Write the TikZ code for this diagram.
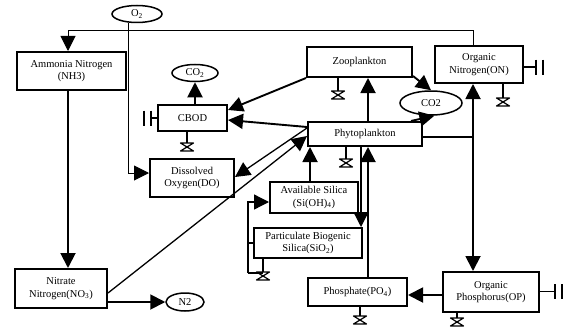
\documentclass[tikz,border=0pt]{standalone}
\usepackage{fontspec}
\setmainfont{Liberation Serif}
\usetikzlibrary{arrows.meta,shapes.geometric}
\begin{document}
\begin{tikzpicture}[x=1pt,y=-1pt,
  box/.style={draw, line width=2pt, align=center, inner sep=0pt, font=\fontsize{10.5}{12.5}\selectfont},
  oval/.style={draw, ellipse, line width=1.5pt, inner sep=0pt, font=\fontsize{10.5}{12.5}\selectfont},
  con/.style={line width=1.9pt},
  dia/.style={line width=1.3pt},
  fine/.style={line width=1pt},
  arr/.style={-{Triangle[length=15pt,width=15pt]}},
  pics/sink/.style={code={
    \draw[line width=1.5pt] (0,0)--(0,#1);
    \draw[line width=1.2pt, line join=round] (-6.5,#1)--(6.5,#1)--(-6.5,#1+8)--(6.5,#1+8)--cycle;}},
  pics/barsR/.style={code={
    \draw[line width=1.5pt] (0,0)--(#1,0) (#1,-7.5)--(#1,7.5) (#1+7,-7.5)--(#1+7,7.5);}},
  pics/barsL/.style={code={
    \draw[line width=1.5pt] (0,0)--(-#1,0) (-#1,-7.5)--(-#1,7.5) (-#1-7,-7.5)--(-#1-7,7.5);}},
]
\useasboundingbox (0,0) rectangle (569,329);

% boxes
\node[box, minimum width=109pt, minimum height=38pt] (nh3) at (71.5,71) {Ammonia Nitrogen\\(NH3)};
\node[box, minimum width=92pt, minimum height=39pt] (no3) at (61,288.5) {Nitrate\\Nitrogen(NO\textsubscript{3})};
\node[box, minimum width=69pt, minimum height=26pt] (cbod) at (192.5,118) {CBOD};
\node[box, minimum width=84pt, minimum height=38pt] (do) at (192,178) {Dissolved\\Oxygen(DO)};
\node[box, minimum width=105pt, minimum height=30pt] (zoo) at (359.5,62) {Zooplankton};
\node[box, minimum width=88pt, minimum height=37pt] (on) at (479,64.5) {Organic\\Nitrogen(ON)};
\node[box, minimum width=114pt, minimum height=24pt] (phyto) at (365,134) {Phytoplankton};
\node[box, minimum width=88pt, minimum height=31pt] (avsi) at (314,197.5) {Available Silica\\(Si(OH)\textsubscript{4})};
\node[box, minimum width=108pt, minimum height=30pt] (pbs) at (308,243) {Particulate Biogenic\\Silica(SiO\textsubscript{2})};
\node[box, minimum width=99pt, minimum height=28pt] (po4) at (357.5,292) {Phosphate(PO\textsubscript{4})};
\node[box, minimum width=96pt, minimum height=40pt] (op) at (491,292) {Organic\\Phosphorus(OP)};

% ellipses
\node[oval, minimum width=50pt, minimum height=17pt] (o2) at (137,14) {O\textsubscript{2}};
\node[oval, minimum width=46pt, minimum height=17pt] (co2a) at (195,73) {CO\textsubscript{2}};
\node[oval, minimum width=62pt, minimum height=24pt] (co2b) at (431,103) {CO2};
\node[oval, minimum width=38pt, minimum height=18pt] (n2) at (185,302) {N2};

% helper coordinates
\coordinate (t1) at (473,31);
\coordinate (t2) at (68,31);
\coordinate (o2c) at (128,173);
\coordinate (vx) at (368,0);
\coordinate (vy) at (361,0);
\coordinate (vz) at (310,0);
\coordinate (jn) at (473,137);
\coordinate (lp) at (248,273);

% connectors
\draw[fine, arr] (t1 |- on.north) -- (t1) -- (t2) -- (t2 |- nh3.north);
\draw[con, arr] (t2 |- nh3.south) -- (t2 |- no3.north);
\draw[fine, arr] (o2c |- o2.south) -- (o2c) -- (o2c -| do.west);
\draw[con, arr] (no3.east |- n2.west) -- (n2.west);
\draw[dia, arr] (no3.east |- 0,293) -- (phyto.west |- 0,136);
\draw[dia, arr] (phyto.west |- 0,128) -- (do.east |- 0,177);
\draw[con, arr] (phyto.west |- 0,127) -- (cbod.east |- 0,120);
\draw[con, arr] (zoo.south west) -- (cbod.east |- 0,110);
\draw[con, arr] (co2a.south |- cbod.north) -- (co2a.south);
\draw[con, arr] (vx |- phyto.north) -- (vx |- zoo.south);
\draw[con, arr] ([yshift=2pt]zoo.south east) -- (co2b.north);
\draw[con, arr] ([xshift=-12pt]phyto.north east) -- (co2b.-75);
\draw[dia] (phyto.east |- jn) -- (jn);
\draw[con, arr] (jn) -- (jn |- on.south);
\draw[con, arr] (jn) -- (jn |- op.north);
\draw[con, arr] (op.west |- 0,295) -- (po4.east |- 0,295);
\draw[con, arr] (vx |- po4.north) -- (vx |- phyto.south);
\draw[dia, arr] (vy |- phyto.south) -- (vy |- pbs.north);
\draw[con, arr] (vz |- avsi.north) -- (vz |- phyto.south);
\draw[dia] (pbs.west) -- (pbs.west -| lp);
\draw[dia, arr] (lp) -- (lp |- 0,202) -- (avsi.west |- 0,202);
\draw[dia] (lp) -- (263,273);

% sinks
\pic at (187,131) {sink=12};
\pic at (338,77) {sink=14};
\pic at (503,83) {sink=15};
\pic at (346,146) {sink=13};
\pic at (263,258) {sink=14};
\pic at (360,306) {sink=10};
\pic at (457,312) {sink=6};

% boundary bars
\pic at (158,118) {barsL=7};
\pic at (523,67) {barsR=13};
\pic at (539,291.5) {barsR=16};
\end{tikzpicture}
\end{document}
